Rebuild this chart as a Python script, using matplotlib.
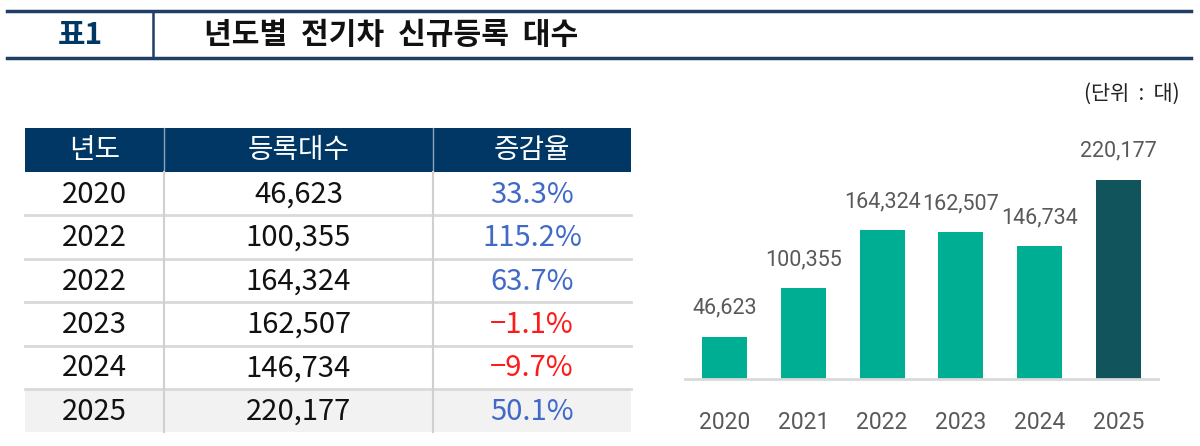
import matplotlib.pyplot as plt
from matplotlib.patches import Rectangle

plt.rcParams['font.family'] = ['Roboto', 'Noto Sans CJK KR', 'DejaVu Sans']

# data
table_years = ['2020', '2022', '2022', '2023', '2024', '2025']
chart_years = ['2020', '2021', '2022', '2023', '2024', '2025']
counts = [46623, 100355, 164324, 162507, 146734, 220177]
rates = [33.3, 115.2, 63.7, -1.1, -9.7, 50.1]
headers = ['년도', '등록대수', '증감율']
title_no = '표1'
title = '년도별  전기차  신규등록  대수'
unit = '(단위  :  대)'

navy = '#003764'
line_navy = '#1F3F66'
teal = '#00AE94'
dark_teal = '#11545C'
narrow = ['Liberation Sans Narrow', 'Noto Sans CJK KR', 'DejaVu Sans']
kr = ['Noto Sans CJK KR', 'DejaVu Sans']

fig = plt.figure(figsize=(12, 4.46), dpi=100)

# overlay in pixel coordinates
ov = fig.add_axes([0, 0, 1, 1])
ov.set_xlim(0, 1200)
ov.set_ylim(446, 0)
ov.axis('off')

# title banner
ov.plot([7, 1191], [11, 11], color=line_navy, lw=2.5)
ov.plot([7, 1191], [58, 58], color=line_navy, lw=2.5)
ov.plot([153, 153], [11, 58], color=line_navy, lw=1.8)
ov.text(80, 35, title_no, family=kr, fontsize=21.5, fontweight='bold',
        color=navy, ha='center', va='center')
ov.text(204, 35, title, family=kr, fontsize=21.7, fontweight='bold',
        color='#111111', ha='left', va='center')
ov.text(1180, 94, unit, family=kr, fontsize=15, color='#222222',
        ha='right', va='center')

# table
col_edges = [25, 164, 433, 631]
top, head_h, row_h = 128, 44, 43.4
ov.add_patch(Rectangle((col_edges[0], top), col_edges[-1] - col_edges[0], head_h,
                       color=navy, lw=0))
for j, h in enumerate(headers):
    cx = (col_edges[j] + col_edges[j + 1]) / 2
    ov.text(cx, top + head_h / 2, h, family=kr, fontsize=20, color='white',
            ha='center', va='center')
for xe in col_edges[1:-1]:
    ov.plot([xe, xe], [top, top + head_h], color='#8FA3B8', lw=1)

y0 = top + head_h
n = len(table_years)
last_top = y0 + (n - 1) * row_h
ov.add_patch(Rectangle((col_edges[0], last_top), col_edges[-1] - col_edges[0], row_h,
                       color='#F2F2F2', lw=0))
for i in range(n):
    cy = y0 + i * row_h + row_h / 2
    r = rates[i]
    rtxt = ('−' if r < 0 else '') + f'{abs(r):.1f}%'
    rcol = '#FF1A1A' if r < 0 else '#4169C8'
    cells = [(table_years[i], '#111111'), (f'{counts[i]:,}', '#111111'), (rtxt, rcol)]
    for j, (t, c) in enumerate(cells):
        cx = (col_edges[j] + col_edges[j + 1]) / 2
        ov.text(cx, cy + 1, t, family=narrow, fontsize=21, color=c,
                ha='center', va='center')
    if i > 0:
        ov.plot([col_edges[0], col_edges[-1]], [y0 + i * row_h] * 2,
                color='#D9D9D9', lw=2)
for xe in col_edges[1:-1]:
    ov.plot([xe, xe], [y0, y0 + n * row_h], color='#D0D0D0', lw=1.5)

# bar chart
ax = fig.add_axes([685 / 1200, 67 / 446, (1158 - 685) / 1200, 240 / 446])
colors = [teal] * (len(counts) - 1) + [dark_teal]
x = range(len(chart_years))
bars = ax.bar(x, counts, width=0.57, color=colors)
for b, v in zip(bars, counts):
    ax.annotate(f'{v:,}', (b.get_x() + b.get_width() / 2, v), xytext=(0, 13),
                textcoords='offset points', ha='center', va='bottom',
                fontsize=15.5, color='#595959')
ax.set_xlim(-0.5, 5.5)
ax.set_ylim(0, 265500)
ax.set_xticks(list(x))
ax.set_xticklabels(chart_years, fontsize=16.5, color='#595959')
ax.tick_params(axis='x', length=0, pad=23)
ax.set_yticks([])
for s in ['top', 'right', 'left']:
    ax.spines[s].set_visible(False)
ax.spines['bottom'].set_color('#D9D9D9')
ax.spines['bottom'].set_linewidth(2)
ax.patch.set_alpha(0)

fig.savefig('out.png', dpi=100)
